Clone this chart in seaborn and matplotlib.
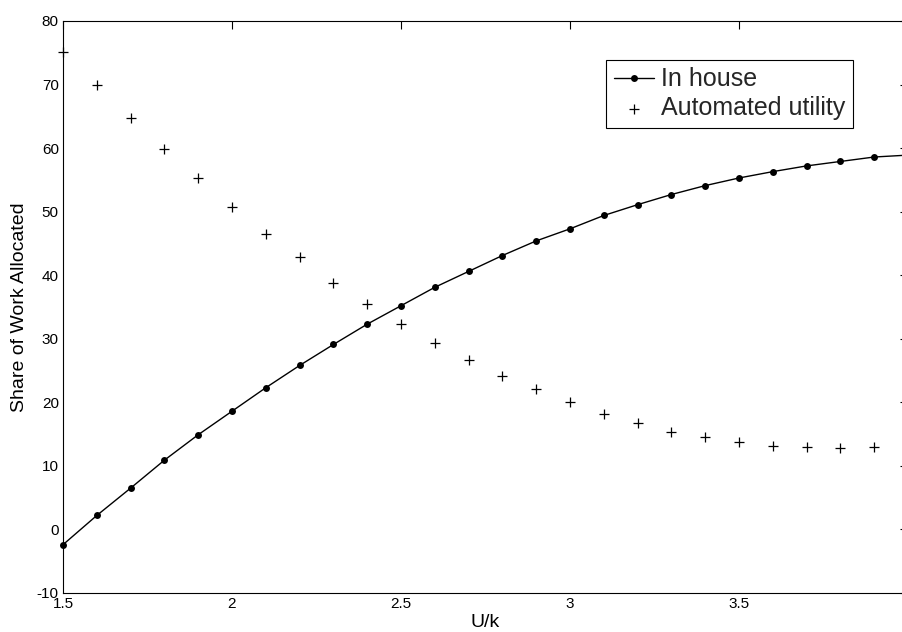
import matplotlib
matplotlib.use("Agg")
import matplotlib.pyplot as plt
import seaborn as sns
import pandas as pd

u_k = [1.5, 1.6, 1.7, 1.8, 1.9, 2.0, 2.1, 2.2, 2.3, 2.4, 2.5, 2.6, 2.7,
       2.8, 2.9, 3.0, 3.1, 3.2, 3.3, 3.4, 3.5, 3.6, 3.7, 3.8, 3.9, 4.0]
in_house = [-2.4, 2.2, 6.5, 10.9, 14.9, 18.6, 22.3, 25.8, 29.1, 32.3, 35.2,
            38.1, 40.6, 43.1, 45.4, 47.3, 49.4, 51.1, 52.7, 54.1, 55.3, 56.3,
            57.2, 57.9, 58.6, 58.9]
u_k_auto = [1.5, 1.6, 1.7, 1.8, 1.9, 2.0, 2.1, 2.2, 2.3, 2.4, 2.5, 2.6, 2.7,
            2.8, 2.9, 3.0, 3.1, 3.2, 3.3, 3.4, 3.5, 3.6, 3.7, 3.8, 3.9]
automated = [75.2, 69.9, 64.8, 59.9, 55.3, 50.7, 46.5, 42.8, 38.8, 35.5, 32.3,
             29.4, 26.6, 24.2, 22.1, 20.0, 18.2, 16.8, 15.4, 14.5, 13.7, 13.2,
             12.9, 12.8, 13.0]
x_ticks = [1.5, 2, 2.5, 3, 3.5]
x_tick_labels = ["1.5", "2", "2.5", "3", "3.5"]
y_ticks = [-10, 0, 10, 20, 30, 40, 50, 60, 70, 80]

df_house = pd.DataFrame({"U/k": u_k, "share": in_house})
df_auto = pd.DataFrame({"U/k": u_k_auto, "share": automated})

sns.set_theme(style="white")
plt.rcParams["font.family"] = ["Liberation Sans", "DejaVu Sans"]
plt.rcParams["axes.unicode_minus"] = False

fig = plt.figure(figsize=(9.03, 6.32), dpi=100)
ax = fig.add_axes([63 / 903, 1 - 593 / 632, 845 / 903, 572 / 632])

sns.lineplot(data=df_house, x="U/k", y="share", ax=ax, color="black",
             linewidth=1.0, marker="o", markersize=5, markeredgewidth=0,
             label="In house", clip_on=False)
sns.scatterplot(data=df_auto, x="U/k", y="share", ax=ax, color="black",
                marker="+", s=55, linewidth=0.9, label="Automated utility",
                clip_on=False)

ax.set_xlim(1.5, 4.0)
ax.set_ylim(-10, 80)
ax.set_xticks(x_ticks)
ax.set_xticklabels(x_tick_labels)
ax.set_yticks(y_ticks)
ax.tick_params(axis="both", direction="in", length=6, width=0.8,
               labelsize=11, colors="black", top=True, right=True, pad=3)
for side in ["left", "bottom", "top", "right"]:
    ax.spines[side].set_visible(True)
    ax.spines[side].set_color("black")
    ax.spines[side].set_linewidth(0.8)

ax.set_xlabel("U/k", fontsize=14, color="black")
ax.set_ylabel("Share of Work Allocated", fontsize=14, color="black")
ax.xaxis.set_label_coords((485 - 63) / 845, -0.036)
ax.yaxis.set_label_coords(-0.051, 0.5)
ax.yaxis.label.set_va("center")

leg = ax.legend(loc="upper left", bbox_to_anchor=(0.643, 0.932),
                borderaxespad=0, fontsize=18, frameon=True, fancybox=False,
                edgecolor="black", framealpha=1, handlelength=1.6,
                handletextpad=0.3, borderpad=0.3, labelspacing=0.2)
leg.get_frame().set_linewidth(0.8)

fig.savefig("out.png", dpi=100, facecolor="white")
